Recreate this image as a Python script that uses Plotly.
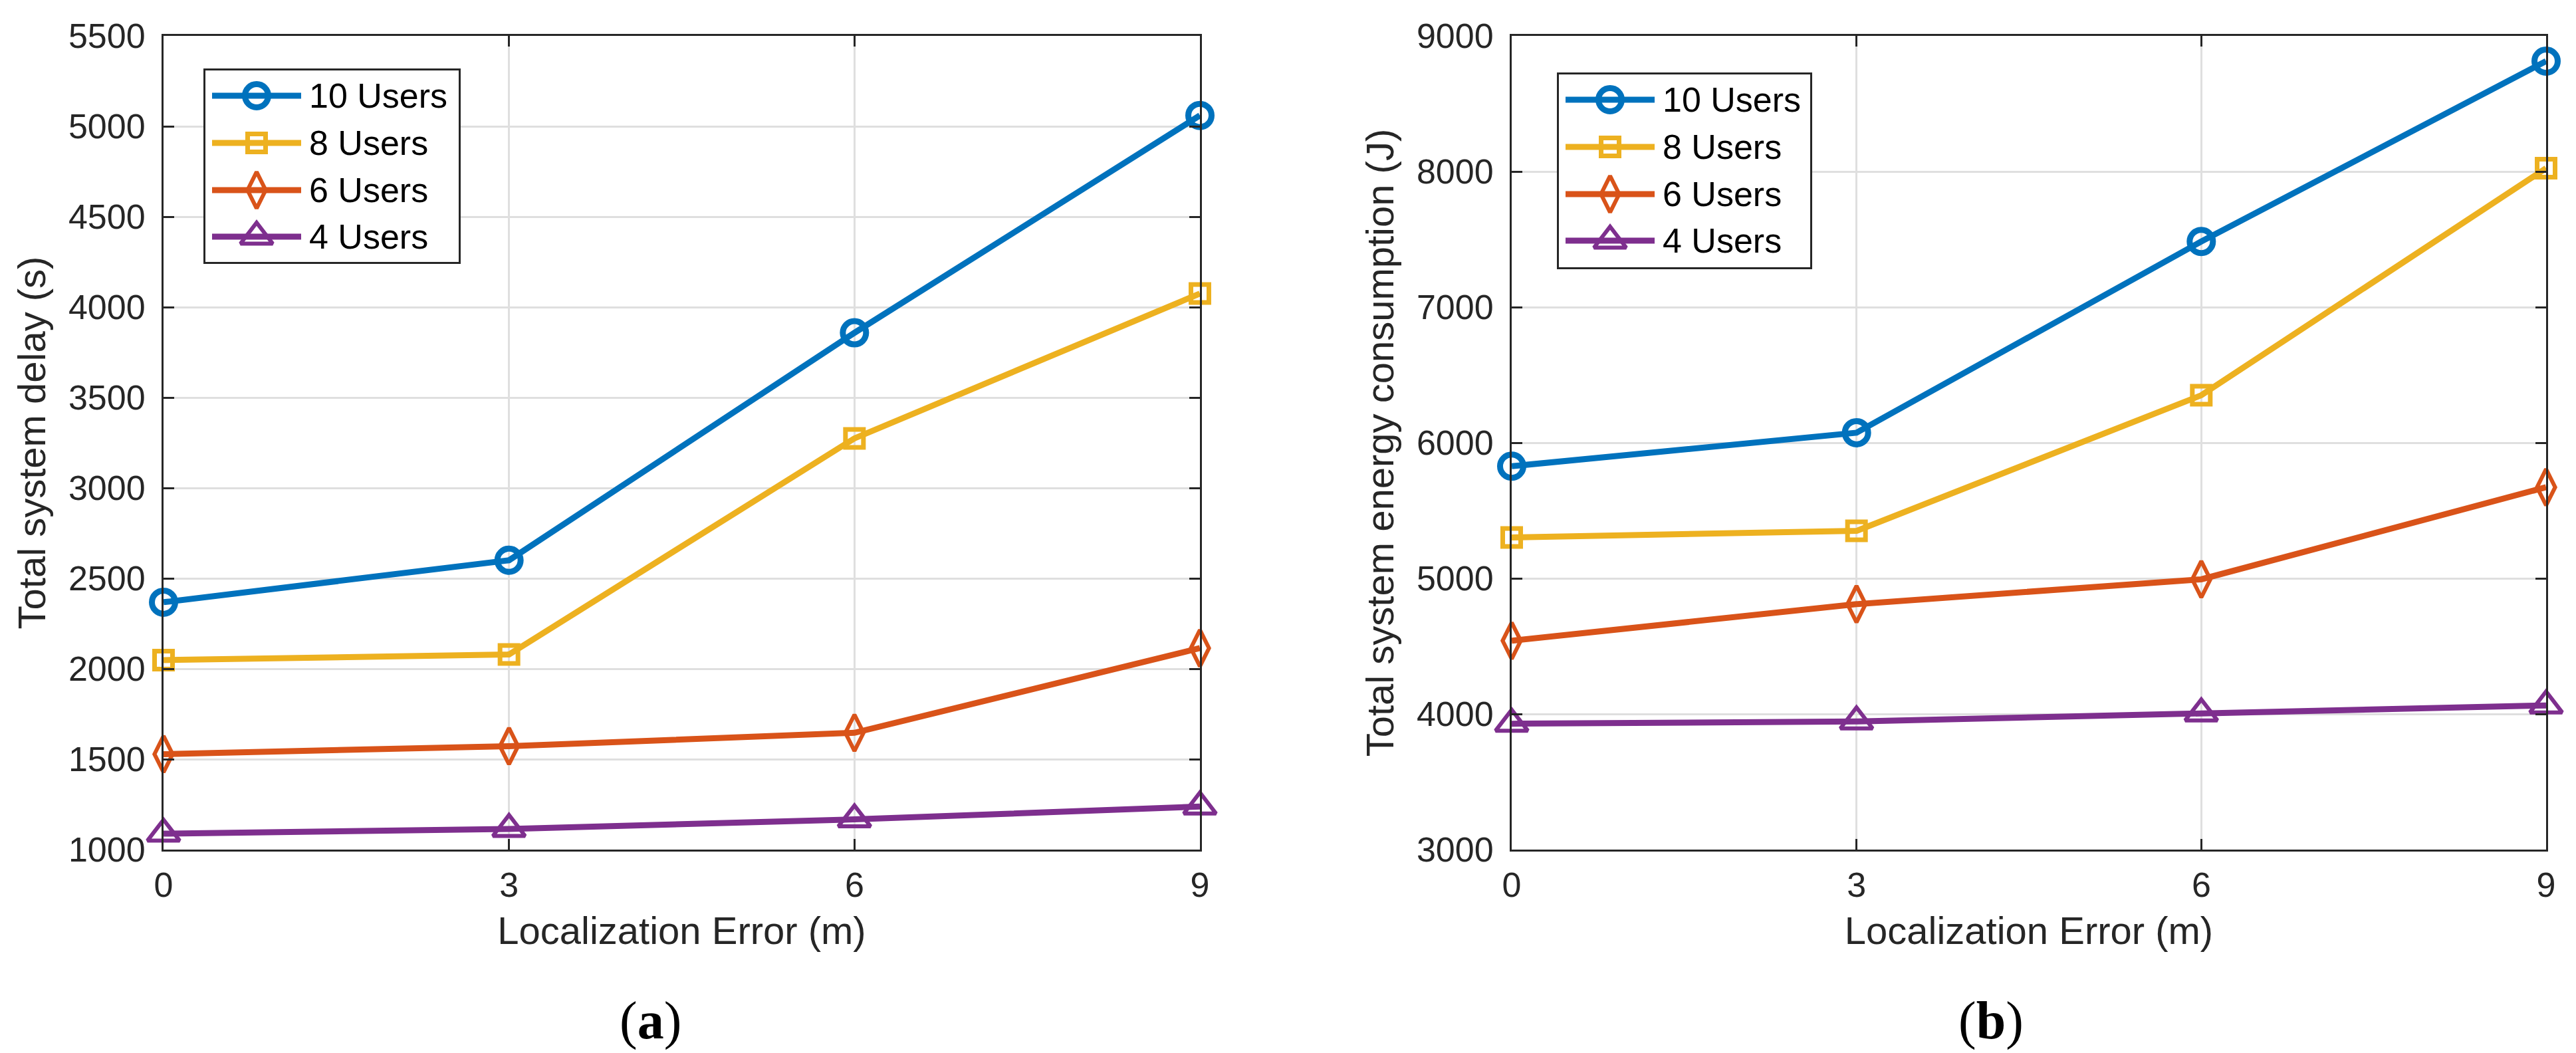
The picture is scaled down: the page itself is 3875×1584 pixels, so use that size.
import plotly.graph_objects as go

# ---- data ----
loc_error = [0, 3, 6, 9]
x_ticks = [0, 3, 6, 9]

series_names = ["10 Users", "8 Users", "6 Users", "4 Users"]

delay_10 = [2368, 2600, 3858, 5060]
delay_8 = [2048, 2079, 3274, 4075]
delay_6 = [1528, 1572, 1646, 2114]
delay_4 = [1088, 1114, 1167, 1238]

energy_10 = [5827, 6074, 7484, 8814]
energy_8 = [5302, 5350, 6350, 8024]
energy_6 = [4540, 4810, 4993, 5672]
energy_4 = [3928, 3945, 4004, 4063]

delay_ticks = [1000, 1500, 2000, 2500, 3000, 3500, 4000, 4500, 5000, 5500]
energy_ticks = [3000, 4000, 5000, 6000, 7000, 8000, 9000]

# ---- styles (MATLAB default colour order) ----
colors = ["#0072BD", "#EDB120", "#D95319", "#7E2F8E"]
symbols = ["circle-open", "square-open", "diamond-tall-open", "triangle-up-open"]
msizes = [35, 27, 39, 42]
mline_w = [9, 7, 6, 6]
LINE_W = 9

W, H = 3875, 1584
AX = "#262626"
GRID = "#dfdfdf"
FONT = "Liberation Sans, Arial, sans-serif"


def px_x(p):
    return p / W


def px_y(p):
    return 1 - p / H


fig = go.Figure()

panels = [
    ("x", "y", [delay_10, delay_8, delay_6, delay_4]),
    ("x2", "y2", [energy_10, energy_8, energy_6, energy_4]),
]

for xa, ya, ys in panels:
    for name, yv, c, s, ms, mw in zip(series_names, ys, colors, symbols, msizes, mline_w):
        fig.add_trace(go.Scatter(
            x=loc_error, y=yv, name=name, xaxis=xa, yaxis=ya,
            mode="lines+markers", cliponaxis=False,
            line=dict(color=c, width=LINE_W),
            marker=dict(symbol=s, size=ms, color=c, line=dict(color=c, width=mw)),
            showlegend=False,
        ))

# ---- hand-drawn legends (plotly caps legend marker size at 16px) ----
# box in pixels: left, top, right, bottom
legend_boxes = [(298, 95, 685, 389), (2334, 101, 2718, 397)]
row_offsets = [41, 112, 183, 253]   # from box top
legend_axes = [("x3", "y3"), ("x4", "y4")]

shapes = []
annotations = []
for (l, t, r, b), (lx, ly) in zip(legend_boxes, legend_axes):
    bw, bh = r - l, b - t
    shapes.append(dict(type="rect", xref=lx, yref=ly, x0=1.5, x1=bw - 1.5, y0=1.5, y1=bh - 1.5,
                       line=dict(color=AX, width=3), fillcolor="white", layer="below"))
    for name, off, c, s, ms, mw in zip(series_names, row_offsets, colors, symbols, msizes, mline_w):
        yy = bh - off
        fig.add_trace(go.Scatter(
            x=[13, 147], y=[yy, yy], xaxis=lx, yaxis=ly, mode="lines",
            line=dict(color=c, width=LINE_W), showlegend=False, hoverinfo="skip"))
        fig.add_trace(go.Scatter(
            x=[80], y=[yy], xaxis=lx, yaxis=ly, mode="markers", cliponaxis=False,
            marker=dict(symbol=s, size=ms, color=c, line=dict(color=c, width=mw)),
            showlegend=False, hoverinfo="skip"))
        annotations.append(dict(x=157, y=yy, xref=lx, yref=ly, text=name, showarrow=False,
                                xanchor="left", yanchor="middle",
                                font=dict(family=FONT, size=52, color="black")))

# panel labels
for lab, xp in [("(<b>a</b>)", 971), ("(<b>b</b>)", 2987)]:
    annotations.append(dict(x=px_x(xp), y=px_y(1527), xref="paper", yref="paper", text=lab,
                            showarrow=False, xanchor="center", yanchor="middle",
                            font=dict(family="Liberation Serif, Times New Roman, serif",
                                      size=80, color="black")))

common_axis = dict(
    showline=True, linecolor=AX, linewidth=3, mirror="allticks",
    ticks="inside", ticklen=16, tickwidth=3, tickcolor=AX,
    showgrid=True, gridcolor=GRID, gridwidth=3, zeroline=False,
    tickfont=dict(family=FONT, size=52, color=AX),
    automargin=False,
)

plot_top, plot_bot = 46, 1270
ydom = [px_y(plot_bot), px_y(plot_top)]

xtitle = dict(text="Localization Error (m)", font=dict(family=FONT, size=58, color=AX), standoff=20)

layout_axes = dict(
    xaxis=dict(common_axis, domain=[px_x(238), px_x(1797)], range=[0, 9], tickvals=x_ticks,
               anchor="y", title=xtitle, ticklabelstandoff=6),
    yaxis=dict(common_axis, domain=ydom, range=[1000, 5500], tickvals=delay_ticks, anchor="x",
               title=dict(text="Total system delay (s)", font=dict(family=FONT, size=58, color=AX),
                          standoff=16),
               ticklabelstandoff=14),
    xaxis2=dict(common_axis, domain=[px_x(2266), px_x(3822)], range=[0, 9], tickvals=x_ticks,
                anchor="y2", title=xtitle, ticklabelstandoff=6),
    yaxis2=dict(common_axis, domain=ydom, range=[3000, 9000], tickvals=energy_ticks, anchor="x2",
                title=dict(text="Total system energy consumption (J)",
                           font=dict(family=FONT, size=58, color=AX), standoff=16),
                ticklabelstandoff=14),
)

for (l, t, r, b), (lx, ly) in zip(legend_boxes, legend_axes):
    n = lx[1:]
    layout_axes["xaxis" + n] = dict(domain=[px_x(l), px_x(r)], range=[0, r - l], visible=False,
                                    anchor=ly, fixedrange=True)
    layout_axes["yaxis" + n] = dict(domain=[px_y(b), px_y(t)], range=[0, b - t], visible=False,
                                    anchor=lx, fixedrange=True)

fig.update_layout(
    width=W, height=H,
    margin=dict(l=0, r=0, t=0, b=0),
    paper_bgcolor="white", plot_bgcolor="white",
    showlegend=False,
    font=dict(family=FONT, color=AX),
    shapes=shapes, annotations=annotations,
    **layout_axes,
)

fig.write_html("out.html")
